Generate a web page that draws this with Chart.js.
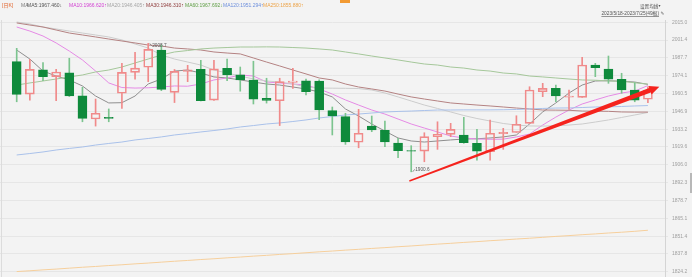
<!DOCTYPE html>
<html>
<head>
<meta charset="utf-8">
<script src="https://cdn.jsdelivr.net/npm/chart.js@4.4.0/dist/chart.umd.min.js"></script>
<style>
  html, body { margin: 0; padding: 0; background: #f3f3f3; }
  #wrap { position: relative; width: 692px; height: 277px; overflow: hidden; }
  #tab { position: absolute; left: 340px; top: 0; width: 10px; height: 3px; background: #f29a32; }
  #scroll { position: absolute; left: 690px; top: 173px; width: 2px; height: 20px; background: #b8b8b8; }
</style>
</head>
<body>
<div id="wrap">
  <canvas id="kChart" width="692" height="277"></canvas>
  <div id="tab"></div>
  <div id="scroll"></div>
</div>
<script>
// daily candles 2023/5/18 - 2023/7/25, 49 bars
const opens = [1984.9, 1960.1, 1978.7, 1973.4, 1976.4, 1958.8, 1941.0, 1942.3, 1960.7, 1976.7,
  1980.6, 1993.8, 1961.4, 1977.5, 1979.1, 1955.5, 1979.7, 1974.9, 1970.7, 1956.9,
  1955.0, 1969.1, 1970.2, 1970.1, 1947.4, 1942.8, 1923.2, 1935.6, 1932.4, 1922.6,
  1916.8, 1916.5, 1927.5, 1929.3, 1928.8, 1922.4, 1916.0, 1929.8, 1930.7, 1937.7,
  1961.9, 1964.5, 1957.8, 1957.6, 1982.3, 1979.3, 1971.4, 1963.2, 1956.1];
const highs = [1995.1, 1986.7, 1984.1, 1979.0, 1987.5, 1965.3, 1956.3, 1948.7, 1983.6, 1992.1,
  1998.9, 1997.6, 1978.9, 1982.1, 1985.9, 1985.9, 1986.8, 1980.8, 1985.2, 1972.2,
  1972.2, 1979.8, 1971.6, 1970.9, 1950.2, 1945.4, 1948.4, 1943.3, 1939.5, 1926.2,
  1920.6, 1930.5, 1938.9, 1937.7, 1942.3, 1933.1, 1940.2, 1933.9, 1943.5, 1965.7,
  1968.3, 1967.0, 1963.2, 1988.2, 1983.6, 1989.2, 1976.0, 1968.8, 1965.7];
const lows = [1954.2, 1955.5, 1970.3, 1955.0, 1958.2, 1938.9, 1935.6, 1938.9, 1949.2, 1971.4,
  1969.6, 1962.7, 1953.6, 1969.6, 1954.8, 1955.2, 1970.3, 1962.3, 1952.5, 1953.2,
  1936.0, 1964.5, 1959.4, 1940.6, 1928.8, 1921.6, 1919.0, 1931.3, 1919.8, 1911.4,
  1900.6, 1908.3, 1917.8, 1927.5, 1922.4, 1909.6, 1909.6, 1917.8, 1930.7, 1937.6,
  1958.1, 1954.2, 1948.4, 1957.5, 1973.4, 1968.3, 1960.7, 1954.2, 1953.5];
const closes = [1959.9, 1979.0, 1973.4, 1977.0, 1958.6, 1941.5, 1945.4, 1941.5, 1976.7, 1980.0,
  1994.3, 1963.7, 1977.5, 1978.7, 1955.0, 1979.4, 1974.7, 1970.9, 1956.2, 1955.3,
  1969.6, 1970.1, 1961.9, 1947.9, 1943.3, 1923.4, 1930.1, 1932.6, 1923.4, 1916.7,
  1916.4, 1927.5, 1929.3, 1933.1, 1922.9, 1916.5, 1930.1, 1930.8, 1937.0, 1963.2,
  1964.5, 1958.6, 1958.6, 1982.3, 1980.3, 1971.4, 1963.2, 1955.5, 1963.2];

// moving averages
const ma5 = [1993.8, 1986.9, 1977.7, 1973.9, 1970.9, 1966.3, 1958.6, 1953.3, 1953.5, 1958.6,
  1967.8, 1971.6, 1977.7, 1978.5, 1976.2, 1973.2, 1972.4, 1970.9, 1969.3, 1967.8,
  1967.0, 1965.5, 1964.0, 1961.7, 1957.9, 1948.7, 1943.3, 1937.2, 1931.8, 1926.5,
  1924.2, 1923.4, 1924.2, 1925.0, 1925.7, 1925.9, 1926.5, 1927.3, 1928.8, 1937.2,
  1946.4, 1953.3, 1960.9, 1967.0, 1970.1, 1970.3, 1969.9, 1969.3, 1967.5];
const ma10 = [2011.4, 2008.3, 2004.5, 1999.2, 1993.0, 1986.2, 1977.7, 1968.6, 1965.1, 1964.7,
  1964.9, 1965.5, 1966.3, 1966.1, 1967.8, 1970.9, 1972.4, 1974.7, 1973.9, 1969.3,
  1968.6, 1967.8, 1967.0, 1964.0, 1960.1, 1955.6, 1951.7, 1947.9, 1944.8, 1941.0,
  1937.2, 1934.1, 1931.1, 1928.0, 1926.5, 1925.7, 1925.5, 1925.6, 1927.3, 1929.5,
  1936.4, 1942.5, 1947.9, 1952.5, 1955.6, 1958.6, 1960.9, 1962.4, 1966.6];
const ma20 = [2015.2, 2013.7, 2011.4, 2009.9, 2008.3, 2006.8, 2005.3, 2003.8, 2001.5, 1998.4,
  1995.3, 1990.0, 1986.9, 1984.6, 1982.3, 1978.5, 1976.2, 1973.9, 1971.6, 1970.1,
  1969.3, 1967.8, 1965.5, 1964.7, 1964.6, 1964.5, 1964.3, 1963.2, 1960.9, 1957.9,
  1954.8, 1951.7, 1949.1, 1946.4, 1943.7, 1941.4, 1939.5, 1937.6, 1936.4, 1935.7,
  1935.6, 1935.8, 1936.4, 1937.2, 1938.7, 1940.3, 1942.2, 1944.1, 1946.0];
const ma30 = [2014.5, 2012.9, 2011.4, 2009.1, 2006.8, 2005.3, 2003.8, 2002.2, 2000.7, 1999.2,
  1997.6, 1996.9, 1995.3, 1994.6, 1993.8, 1992.3, 1991.5, 1990.8, 1987.7, 1984.6,
  1981.6, 1978.5, 1975.5, 1972.4, 1970.9, 1967.8, 1965.5, 1964.0, 1962.4, 1960.1,
  1957.9, 1956.3, 1954.8, 1953.3, 1952.5, 1951.7, 1951.0, 1950.2, 1949.4, 1948.7,
  1947.9, 1947.8, 1947.7, 1947.1, 1947.0, 1946.9, 1946.4, 1946.3, 1946.3];
const ma60 = [1967.0, 1968.6, 1970.1, 1971.6, 1973.2, 1974.7, 1977.0, 1978.5, 1980.8, 1983.9,
  1986.9, 1990.0, 1992.3, 1993.4, 1994.6, 1995.3, 1995.7, 1996.1, 1996.1, 1996.2,
  1996.1, 1995.7, 1995.3, 1994.6, 1993.8, 1992.3, 1990.8, 1989.2, 1987.7, 1986.2,
  1984.6, 1983.1, 1982.3, 1980.8, 1980.0, 1978.5, 1977.7, 1976.2, 1975.5, 1973.9,
  1973.2, 1972.4, 1971.6, 1970.9, 1970.7, 1970.1, 1969.9, 1968.7, 1967.7];
const ma120 = [1913.5, 1914.6, 1915.8, 1917.3, 1918.5, 1919.6, 1921.1, 1922.3, 1923.4, 1925.0,
  1926.1, 1927.3, 1928.8, 1929.9, 1931.1, 1932.2, 1933.4, 1934.9, 1936.0, 1937.2,
  1938.0, 1939.1, 1940.3, 1941.8, 1942.9, 1944.1, 1944.8, 1945.6, 1946.4, 1946.8,
  1947.1, 1947.5, 1947.9, 1947.9, 1948.0, 1948.0, 1948.0, 1948.1, 1948.3, 1948.7,
  1949.1, 1949.4, 1949.5, 1949.8, 1950.2, 1950.3, 1950.6, 1951.0, 1951.3];
const ma250 = [1824.3, 1824.9, 1825.6, 1826.2, 1826.9, 1827.6, 1828.2, 1828.9, 1829.5, 1830.2,
  1830.8, 1831.5, 1832.2, 1832.8, 1833.5, 1834.1, 1834.8, 1835.4, 1836.1, 1836.7,
  1837.4, 1838.0, 1838.7, 1839.4, 1840.0, 1840.7, 1841.3, 1842.0, 1842.6, 1843.3,
  1843.9, 1844.6, 1845.3, 1845.9, 1846.6, 1847.2, 1847.9, 1848.5, 1849.2, 1849.8,
  1850.5, 1851.2, 1851.8, 1852.5, 1853.1, 1853.8, 1854.4, 1855.1, 1855.9];

const yTicks = [1824.2, 1837.8, 1851.4, 1865.1, 1878.7, 1892.3, 1906.0, 1919.6,
  1933.2, 1946.9, 1960.5, 1974.1, 1987.7, 2001.4, 2015.0];

const legendTexts = ['[日K]', 'MA', 'MA5:1967.460↓', 'MA10:1966.620↑', 'MA20:1946.405↑',
  'MA30:1946.310↑', 'MA60:1967.692↓', 'MA120:1951.294↑', 'MA250:1855.880↑'];
const rangeText = '2023/5/18-2023/7/25(49根)';
const extremeLabels = ['2008.7', '1900.6'];
// hand drawn trend arrow: [bar index, price]
const arrowFrom = [29.86, 1893.6];
const arrowTo = [48.87, 1965.7];

const UP = '#f08a8a';
const DOWN = '#0f8a3c';
const DOWN_WICK = '#7cc48f';
const isUp = i => closes[i] >= opens[i];

const bodies = opens.map((o, i) => ({ x: i, y: [o, closes[i]] }));
const upperWicks = opens.map((o, i) => ({ x: i, y: [Math.max(o, closes[i]), highs[i]] }));
const lowerWicks = opens.map((o, i) => ({ x: i, y: [lows[i], Math.min(o, closes[i])] }));
const pts = arr => arr.map((v, i) => ({ x: i, y: v }));

const maLine = (data, color) => ({
  type: 'line', data: pts(data), borderColor: color, borderWidth: 1,
  pointRadius: 0, tension: 0, order: 5
});
const wickSet = data => ({
  type: 'bar', data, barThickness: 1, grouped: false, borderWidth: 0, order: 3,
  backgroundColor: c => isUp(c.dataIndex) ? UP : DOWN_WICK
});

const decor = {
  id: 'decor',
  afterDatasetsDraw(chart) {
    const { ctx, scales: { x, y } } = chart;
    ctx.save();
    // max / min markers
    let hi = 0, lo = 0;
    highs.forEach((v, i) => { if (v > highs[hi]) hi = i; });
    lows.forEach((v, i) => { if (v < lows[lo]) lo = i; });
    const hx = x.getPixelForValue(hi), hy = y.getPixelForValue(highs[hi]);
    const lx = x.getPixelForValue(lo), ly = y.getPixelForValue(lows[lo]);
    ctx.strokeStyle = '#666';
    ctx.lineWidth = 0.7;
    ctx.beginPath();
    ctx.moveTo(hx + 1.5, hy); ctx.lineTo(hx + 3.5, hy + 2.5);
    ctx.moveTo(lx + 1.5, ly); ctx.lineTo(lx + 3.5, ly - 2.5);
    ctx.stroke();
    ctx.fillStyle = '#555';
    ctx.font = '4.7px "Liberation Sans", sans-serif';
    ctx.textBaseline = 'middle';
    ctx.fillText(extremeLabels[0], hx + 4, hy + 2.6);
    ctx.fillText(extremeLabels[1], lx + 4, ly - 2.2);

    // red arrow
    const x0 = x.getPixelForValue(arrowFrom[0]), y0 = y.getPixelForValue(arrowFrom[1]);
    const x1 = x.getPixelForValue(arrowTo[0]), y1 = y.getPixelForValue(arrowTo[1]);
    const len = Math.hypot(x1 - x0, y1 - y0);
    const ux = (x1 - x0) / len, uy = (y1 - y0) / len, nx = -uy, ny = ux;
    const bx = x1 - ux * 10, by = y1 - uy * 10;
    ctx.fillStyle = '#f5231d';
    ctx.beginPath();
    ctx.moveTo(x0 + nx * 0.7, y0 + ny * 0.7);
    ctx.lineTo(bx + nx * 2.3, by + ny * 2.3);
    ctx.lineTo(bx + nx * 4.5, by + ny * 4.5);
    ctx.lineTo(x1, y1);
    ctx.lineTo(bx - nx * 4.5, by - ny * 4.5);
    ctx.lineTo(bx - nx * 2.3, by - ny * 2.3);
    ctx.lineTo(x0 - nx * 0.7, y0 - ny * 0.7);
    ctx.closePath();
    ctx.fill();
    ctx.restore();
  },
  afterDraw(chart) {
    const { ctx, chartArea } = chart;
    ctx.save();
    // left border
    ctx.strokeStyle = '#dcdcdc';
    ctx.lineWidth = 1;
    ctx.beginPath();
    ctx.moveTo(1.5, chartArea.top); ctx.lineTo(1.5, chartArea.bottom);
    ctx.stroke();

    // MA legend
    const lx = [2, 21, 27, 69, 107, 146, 185, 223, 263];
    const lc = ['#e2632b', '#7a7a7a', '#555555', '#d23fd2', '#a6a6a6', '#8e3b3b', '#5f9e45', '#6d8fdc', '#eda54b'];
    ctx.textBaseline = 'middle';
    ctx.font = '5px "Liberation Sans", "Noto Sans CJK SC", sans-serif';
    legendTexts.forEach((t, i) => {
      ctx.fillStyle = lc[i];
      ctx.fillText(t, lx[i], 6);
    });

    // right header
    ctx.fillStyle = '#555';
    ctx.font = '4.6px "Noto Sans CJK SC", sans-serif';
    ctx.fillText('设置均线', 640, 6);
    ctx.font = '4px "DejaVu Sans", sans-serif';
    ctx.fillText('▾', 658.5, 6);
    ctx.font = '4.8px "Liberation Sans", "Noto Sans CJK SC", sans-serif';
    ctx.textAlign = 'right';
    ctx.fillText(rangeText, 659, 14);
    const w = ctx.measureText(rangeText).width;
    ctx.fillRect(659 - w, 16.3, w, 0.6);
    ctx.textAlign = 'left';
    ctx.font = '4.5px "DejaVu Sans", sans-serif';
    ctx.fillText('✎', 660.5, 13.5);
    ctx.restore();
  }
};

new Chart(document.getElementById('kChart'), {
  type: 'bar',
  data: {
    datasets: [
      maLine(ma250, '#f6cf9c'),
      maLine(ma120, '#a9c1ea'),
      maLine(ma60, '#a5c79a'),
      maLine(ma30, '#b48282'),
      maLine(ma20, '#cccccc'),
      maLine(ma10, '#e58ae5'),
      maLine(ma5, '#8e8e8e'),
      wickSet(upperWicks),
      wickSet(lowerWicks),
      {
        type: 'bar', data: bodies, barThickness: 9, grouped: false, order: 1,
        borderWidth: 1, borderSkipped: false,
        borderColor: c => isUp(c.dataIndex) ? UP : DOWN,
        backgroundColor: c => isUp(c.dataIndex) ? 'rgba(0,0,0,0)' : DOWN
      }
    ]
  },
  options: {
    responsive: false,
    maintainAspectRatio: false,
    animation: false,
    events: [],
    layout: { padding: { top: 20, left: 0, right: 0, bottom: 0 } },
    plugins: { legend: { display: false }, tooltip: { enabled: false } },
    scales: {
      x: {
        type: 'linear', display: false, offset: false,
        min: -1.27, max: 49.30,
        grid: { display: false, offset: false }
      },
      y: {
        type: 'linear', position: 'right',
        min: 1820.14, max: 2016.76,
        afterBuildTicks: axis => { axis.ticks = yTicks.map(v => ({ value: v })); },
        afterFit: axis => { axis.width = 27; axis.paddingTop = 0; axis.paddingBottom = 0; },
        ticks: {
          color: '#a0a0a0', padding: 4, autoSkip: false,
          font: { size: 5, family: 'Liberation Sans' },
          callback: v => Number(v).toFixed(1)
        },
        grid: { color: '#e6e6e6', tickLength: 3 },
        border: { display: true, color: '#d4d4d4' }
      }
    }
  },
  plugins: [decor]
});
</script>
</body>
</html>
